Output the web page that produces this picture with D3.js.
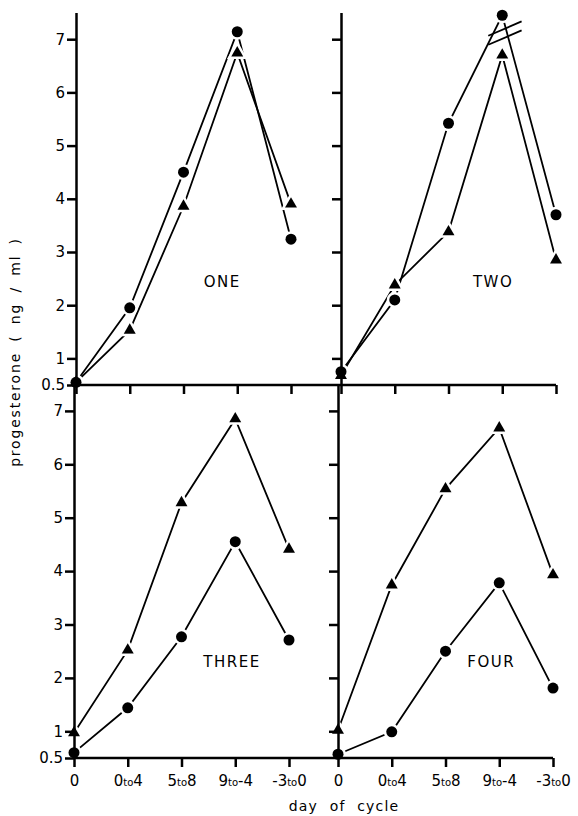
<!DOCTYPE html>
<html>
<head>
<meta charset="utf-8">
<script src="https://cdn.jsdelivr.net/npm/d3@7"></script>
<style>
  body { margin: 0; background: #fff; }
  svg { display: block; }
  text { font-family: "DejaVu Sans", sans-serif; fill: #000; }
</style>
</head>
<body>
<div id="chart"></div>
<script>
// chart size (frame)
const FRAME_WIDTH = 578;
const FRAME_HEIGHT = 816;

// data
const CATEGORIES = ["0", "0to4", "5to8", "9to-4", "-3to0"];
const Y_TICKS = [0.5, 1, 2, 3, 4, 5, 6, 7];

const ONE_CIRCLE = [0.55, 1.95, 4.5, 7.14, 3.24];
const ONE_TRIANGLE = [0.55, 1.53, 3.86, 6.74, 3.9];
const TWO_CIRCLE = [0.75, 2.1, 5.42, 7.45, 3.7];
const TWO_TRIANGLE = [0.68, 2.38, 3.38, 6.7, 2.85];
const THREE_CIRCLE = [0.6, 1.44, 2.77, 4.55, 2.71];
const THREE_TRIANGLE = [0.97, 2.52, 5.28, 6.85, 4.41];
const FOUR_CIRCLE = [0.57, 0.99, 2.5, 3.78, 1.81];
const FOUR_TRIANGLE = [1.02, 3.74, 5.54, 6.68, 3.93];

// panel layout: x of first category, y of baseline (value 0.5), pixels per unit
const STEP = 53.75;
const PANELS = [
  {name: "ONE", circle: ONE_CIRCLE, triangle: ONE_TRIANGLE, x0: 76, base: 385, unit: 53.2, left: true, bottom: false, label: [2.72, 2.34]},
  {name: "TWO", circle: TWO_CIRCLE, triangle: TWO_TRIANGLE, x0: 341, base: 385, unit: 53.2, left: false, bottom: false, label: [2.83, 2.34]},
  {name: "THREE", circle: THREE_CIRCLE, triangle: THREE_TRIANGLE, x0: 74, base: 758, unit: 53.4, left: true, bottom: true, label: [2.94, 2.2]},
  {name: "FOUR", circle: FOUR_CIRCLE, triangle: FOUR_TRIANGLE, x0: 338, base: 758, unit: 53.4, left: false, bottom: true, label: [2.85, 2.2]}
];

const SVG = d3.select("#chart")
              .append("svg")
                .attr("width", FRAME_WIDTH)
                .attr("height", FRAME_HEIGHT);

const LINES = SVG.append("g");
const HALOS = SVG.append("g");
const MARKS = SVG.append("g");
const AXES = SVG.append("g");

const TRI = d3.symbol(d3.symbolTriangle, 62);

// label with small "to"
function tickText(sel) {
  sel.each(function(d) {
    const t = d3.select(this);
    const s = CATEGORIES[d];
    t.text(null);
    const parts = s.split("to");
    t.append("tspan").text(parts[0]);
    if (parts.length > 1) {
      t.append("tspan").attr("font-size", "10px").text("to");
      t.append("tspan").text(parts[1]);
    }
  });
}

PANELS.forEach((p) => {
  const X_SCALE = d3.scaleLinear()
                    .domain([0, CATEGORIES.length - 1])
                    .range([p.x0, p.x0 + STEP * (CATEGORIES.length - 1)]);
  const Y_SCALE = d3.scaleLinear()
                    .domain([0.5, 7.5])
                    .range([p.base, p.base - 7 * p.unit]);
  p.X = X_SCALE;
  p.Y = Y_SCALE;

  const line = d3.line()
                 .x((d, i) => X_SCALE(i))
                 .y((d) => Y_SCALE(d));

  [p.circle, p.triangle].forEach((series) => {
    LINES.append("path")
           .datum(series)
           .attr("d", line)
           .attr("fill", "none")
           .attr("stroke", "#000")
           .attr("stroke-width", 1.8);
  });

  // white gaps round the markers, then the markers
  [HALOS, MARKS].forEach((layer, k) => {
    layer.selectAll(null)
           .data(p.triangle)
           .enter()
           .append("path")
             .attr("d", TRI)
             .attr("transform", (d, i) => "translate(" + X_SCALE(i) + "," + Y_SCALE(d) + ")")
             .attr("fill", k ? "#000" : "#fff")
             .attr("stroke", k ? "none" : "#fff")
             .attr("stroke-width", 5);

    layer.selectAll(null)
           .data(p.circle)
           .enter()
           .append("circle")
             .attr("cx", (d, i) => X_SCALE(i))
             .attr("cy", (d) => Y_SCALE(d))
             .attr("r", 5.5)
             .attr("fill", k ? "#000" : "#fff")
             .attr("stroke", k ? "none" : "#fff")
             .attr("stroke-width", 5);
  });

  // y-axis
  const yAxis = d3.axisLeft(Y_SCALE)
                  .tickValues(p.left ? Y_TICKS : Y_TICKS.slice(1))
                  .tickSize(9)
                  .tickSizeOuter(0)
                  .tickPadding(2)
                  .tickFormat((d) => p.left ? (d === 0.5 ? "0.5" : d) : "");
  const yg = AXES.append("g")
                   .attr("transform", "translate(" + p.x0 + ",0)")
                   .call(yAxis);
  yg.select(".domain").attr("stroke-width", 2.5);
  yg.selectAll(".tick line").attr("stroke-width", 2.5);
  yg.selectAll("text").attr("font-size", "15px").attr("font-family", "DejaVu Sans, sans-serif");

  // x-axis
  const xAxis = d3.axisBottom(X_SCALE)
                  .tickValues(d3.range(CATEGORIES.length))
                  .tickSize(9)
                  .tickSizeOuter(0)
                  .tickPadding(8)
                  .tickFormat((d) => CATEGORIES[d]);
  const xg = AXES.append("g")
                   .attr("transform", "translate(0," + p.base + ")")
                   .call(xAxis);
  xg.select(".domain").remove();
  xg.selectAll(".tick line").attr("stroke-width", 2.5);
  if (p.bottom) {
    xg.selectAll("text")
        .attr("font-size", "15px")
        .attr("font-family", "DejaVu Sans, sans-serif")
        .call(tickText);
  } else {
    xg.selectAll("text").remove();
  }

  // panel name
  SVG.append("text")
       .attr("x", X_SCALE(p.label[0]))
       .attr("y", Y_SCALE(p.label[1]))
       .attr("text-anchor", "middle")
       .attr("font-size", "15px")
       .attr("letter-spacing", "1.5px")
       .text(p.name);
});

// shared baselines across both panels
[[PANELS[0], PANELS[1]], [PANELS[2], PANELS[3]]].forEach((pair) => {
  AXES.append("line")
        .attr("x1", pair[0].X(0))
        .attr("x2", pair[1].X(CATEGORIES.length - 1))
        .attr("y1", pair[0].base)
        .attr("y2", pair[0].base)
        .attr("stroke", "#000")
        .attr("stroke-width", 2.5);
});

// scale break mark on panel TWO
const P2 = PANELS[1];
[-4.5, 4.5].forEach((off) => {
  AXES.append("line")
        .attr("x1", P2.X(2.74))
        .attr("y1", P2.Y(6.98) + off)
        .attr("x2", P2.X(3.36))
        .attr("y2", P2.Y(7.25) + off)
        .attr("stroke", "#000")
        .attr("stroke-width", 1.8);
});

// axis titles
SVG.append("text")
     .attr("transform", "translate(20,352) rotate(-90)")
     .attr("text-anchor", "middle")
     .attr("font-size", "14px")
     .attr("letter-spacing", "1.8px")
     .attr("word-spacing", "4px")
     .text("progesterone  ( ng / ml )");

SVG.append("text")
     .attr("x", 344)
     .attr("y", 811)
     .attr("text-anchor", "middle")
     .attr("font-size", "14px")
     .attr("letter-spacing", "1.2px")
     .attr("word-spacing", "6px")
     .text("day of cycle");
</script>
</body>
</html>
